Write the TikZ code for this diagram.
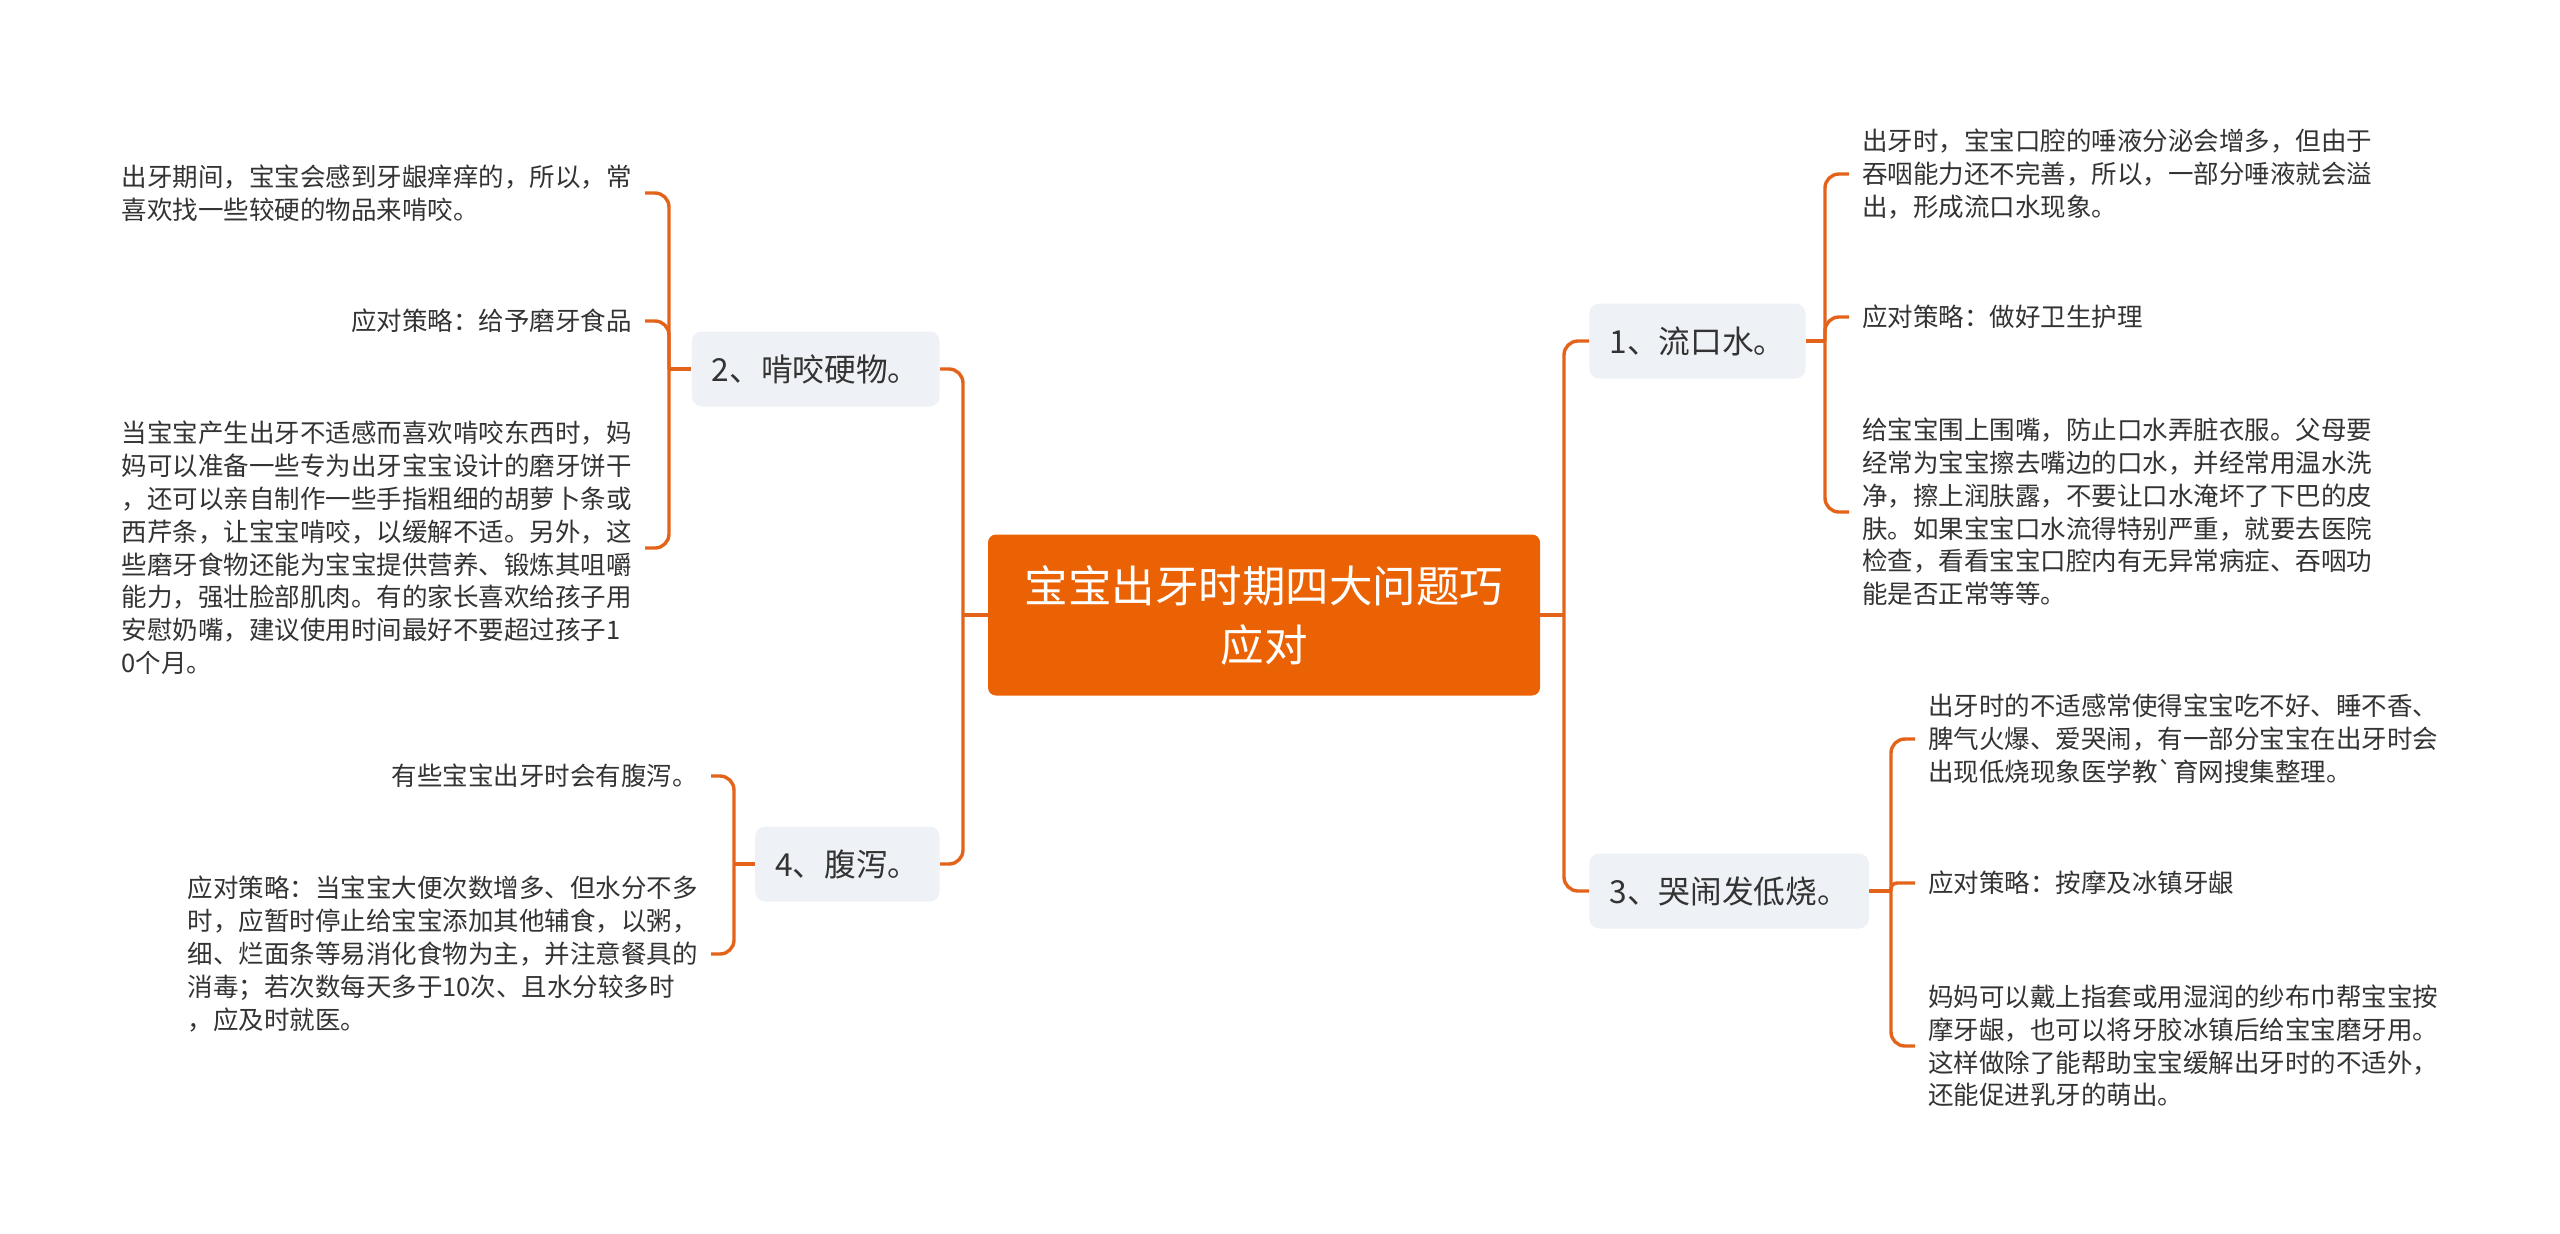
\documentclass[tikz,border=0pt]{standalone}
\usepackage{fontspec}
\newfontfamily\cjk{Noto Sans CJK SC}
\definecolor{rootorange}{HTML}{EB6205}
\definecolor{lineorange}{HTML}{E3631A}
\definecolor{topicgray}{HTML}{EEF1F5}
\definecolor{inkgray}{HTML}{333333}

\begin{document}
\begin{tikzpicture}[x=0.5pt, y=-0.5pt,
  root/.style={fill=rootorange, rounded corners=4pt, text=white, align=center,
    minimum width=276pt, minimum height=80.5pt,
    font=\cjk\fontsize{21.75pt}{29.5pt}\selectfont},
  topic/.style={fill=topicgray, rounded corners=5pt, text=inkgray,
    inner xsep=10pt, minimum height=37.5pt,
    font=\cjk\fontsize{15.85pt}{19pt}\selectfont},
  leaf/.style={text=inkgray, align=left, inner xsep=6.5pt, inner ysep=0pt,
    font=\cjk\fontsize{12.75pt}{16.4pt}\selectfont},
  conn/.style={draw=lineorange, line width=1.7pt, rounded corners=7pt}]
  \useasboundingbox (0,0) rectangle (2560,1233);

  \node[root] (root) at (1264,615) {宝宝出牙时期四大问题巧\\应对};

  \node[topic, anchor=east] (b2) at (940,369) {2、啃咬硬物。};
  \node[topic, anchor=east] (b4) at (940,864) {4、腹泻。};
  \node[topic, anchor=west] (b1) at (1589,341) {1、流口水。};
  \node[topic, anchor=west] (b3) at (1589,891) {3、哭闹发低烧。};

  % main trunks
  \coordinate (tl) at (963,615);
  \coordinate (tr) at (1564,615);
  \draw[conn] (root.west) -- (tl);
  \draw[conn] (tl) |- (b2.east);
  \draw[conn] (tl) |- (b4.east);
  \draw[conn] (root.east) -- (tr);
  \draw[conn] (tr) |- (b1.west);
  \draw[conn] (tr) |- (b3.west);

  % 2
  \node[leaf, anchor=east] (l21) at (645,193) {出牙期间，宝宝会感到牙龈痒痒的，所以，常\\喜欢找一些较硬的物品来啃咬。};
  \node[leaf, anchor=east] (l22) at (645,321) {应对策略：给予磨牙食品};
  \node[leaf, anchor=east] (l23) at (645,548) {当宝宝产生出牙不适感而喜欢啃咬东西时，妈\\妈可以准备一些专为出牙宝宝设计的磨牙饼干\\，还可以亲自制作一些手指粗细的胡萝卜条或\\西芹条，让宝宝啃咬，以缓解不适。另外，这\\些磨牙食物还能为宝宝提供营养、锻炼其咀嚼\\能力，强壮脸部肌肉。有的家长喜欢给孩子用\\安慰奶嘴，建议使用时间最好不要超过孩子1\\0个月。};
  \coordinate (t2) at (669,369);
  \draw[conn] (b2.west) -- (t2);
  \draw[conn] (t2) |- (l21.east);
  \draw[conn] (t2) |- (l22.east);
  \draw[conn] (t2) |- (l23.east);

  % 4
  \node[leaf, anchor=east] (l41) at (711,776) {有些宝宝出牙时会有腹泻。};
  \node[leaf, anchor=east] (l42) at (711,954) {应对策略：当宝宝大便次数增多、但水分不多\\时，应暂时停止给宝宝添加其他辅食，以粥，\\细、烂面条等易消化食物为主，并注意餐具的\\消毒；若次数每天多于10次、且水分较多时\\，应及时就医。};
  \coordinate (t4) at (734,864);
  \draw[conn] (b4.west) -- (t4);
  \draw[conn] (t4) |- (l41.east);
  \draw[conn] (t4) |- (l42.east);

  % 1
  \node[leaf, anchor=west] (l11) at (1849,174) {出牙时，宝宝口腔的唾液分泌会增多，但由于\\吞咽能力还不完善，所以，一部分唾液就会溢\\出，形成流口水现象。};
  \node[leaf, anchor=west] (l12) at (1849,317) {应对策略：做好卫生护理};
  \node[leaf, anchor=west] (l13) at (1849,512) {给宝宝围上围嘴，防止口水弄脏衣服。父母要\\经常为宝宝擦去嘴边的口水，并经常用温水洗\\净，擦上润肤露，不要让口水淹坏了下巴的皮\\肤。如果宝宝口水流得特别严重，就要去医院\\检查，看看宝宝口腔内有无异常病症、吞咽功\\能是否正常等等。};
  \coordinate (t1) at (1825,341);
  \draw[conn] (b1.east) -- (t1);
  \draw[conn] (t1) |- (l11.west);
  \draw[conn] (t1) |- (l12.west);
  \draw[conn] (t1) |- (l13.west);

  % 3
  \node[leaf, anchor=west] (l31) at (1915,739) {出牙时的不适感常使得宝宝吃不好、睡不香、\\脾气火爆、爱哭闹，有一部分宝宝在出牙时会\\出现低烧现象医学教`育网搜集整理。};
  \node[leaf, anchor=west] (l32) at (1915,883) {应对策略：按摩及冰镇牙龈};
  \node[leaf, anchor=west] (l33) at (1915,1046) {妈妈可以戴上指套或用湿润的纱布巾帮宝宝按\\摩牙龈，也可以将牙胶冰镇后给宝宝磨牙用。\\这样做除了能帮助宝宝缓解出牙时的不适外，\\还能促进乳牙的萌出。};
  \coordinate (t3) at (1891,891);
  \draw[conn] (b3.east) -- (t3);
  \draw[conn] (t3) |- (l31.west);
  \draw[conn, rounded corners=3pt] (t3) |- (l32.west);
  \draw[conn] (t3) |- (l33.west);
\end{tikzpicture}
\end{document}
